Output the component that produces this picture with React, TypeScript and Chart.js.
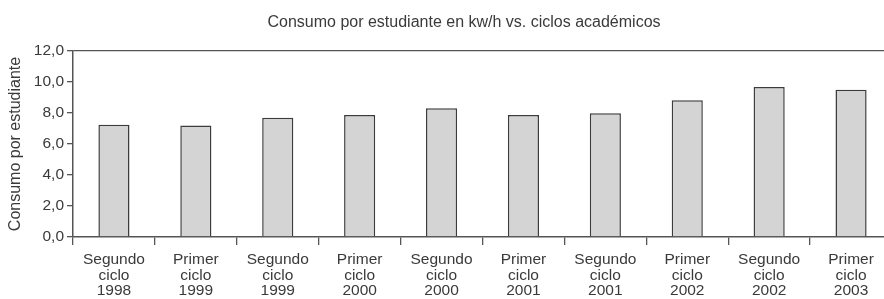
import React, { useEffect, useRef } from "react";
import { Chart, registerables } from "chart.js";

Chart.register(...registerables);

const categories: string[][] = [
  ["Segundo", "ciclo", "1998"],
  ["Primer", "ciclo", "1999"],
  ["Segundo", "ciclo", "1999"],
  ["Primer", "ciclo", "2000"],
  ["Segundo", "ciclo", "2000"],
  ["Primer", "ciclo", "2001"],
  ["Segundo", "ciclo", "2001"],
  ["Primer", "ciclo", "2002"],
  ["Segundo", "ciclo", "2002"],
  ["Primer", "ciclo", "2003"],
];

const consumo: number[] = [7.25, 7.2, 7.7, 7.87, 8.3, 7.87, 7.98, 8.82, 9.68, 9.5];

const chartTitle = "Consumo por estudiante en kw/h vs. ciclos académicos";
const yAxisTitle = "Consumo por estudiante";

const FONT = "'Liberation Sans', Arial, Helvetica, sans-serif";
const TEXT = "#3a3a3a";
const LINE = "#555555";

const titlePlugin = {
  id: "customTitle",
  afterDraw(chart: any) {
    const ctx = chart.ctx;
    ctx.save();
    ctx.font = `16px ${FONT}`;
    ctx.fillStyle = TEXT;
    ctx.textAlign = "center";
    ctx.textBaseline = "alphabetic";
    ctx.fillText(chartTitle, 464, 26.5);
    ctx.restore();
  },
};

export default function App() {
  const canvasRef = useRef<HTMLCanvasElement | null>(null);

  useEffect(() => {
    document.body.style.margin = "0";
    document.body.style.overflow = "hidden";
    const canvas = canvasRef.current;
    if (!canvas) return;
    const chart = new Chart(canvas, {
      type: "bar",
      data: {
        labels: categories,
        datasets: [
          {
            data: consumo,
            backgroundColor: "#d4d4d4",
            borderColor: "#3c3c3c",
            borderWidth: 1.5,
            barPercentage: 0.38,
            categoryPercentage: 1,
          },
        ],
      },
      options: {
        responsive: false,
        animation: false,
        layout: { padding: { top: 51, right: 8, left: 0, bottom: 0 } },
        plugins: {
          legend: { display: false },
          tooltip: { enabled: false },
          title: { display: false },
        },
        scales: {
          x: {
            offset: true,
            grid: {
              offset: true,
              drawOnChartArea: false,
              tickLength: 8,
              color: LINE,
              lineWidth: 1.3,
            },
            border: { color: LINE, width: 1.5 },
            ticks: {
              color: TEXT,
              font: { family: FONT, size: 15.5, lineHeight: 1.0 },
              padding: 7,
              maxRotation: 0,
              autoSkip: false,
            },
            afterFit: (scale: any) => {
              scale.height = 62;
            },
          },
          y: {
            min: 0,
            max: 12,
            ticks: {
              stepSize: 2,
              color: TEXT,
              font: { family: FONT, size: 15.5 },
              padding: 3,
              callback: (v: any) => Number(v).toFixed(1).replace(".", ","),
            },
            grid: {
              drawOnChartArea: true,
              tickLength: 6,
              color: (c: any) => (c.tick && c.tick.value === 12 ? LINE : "rgba(0,0,0,0)"),
              tickColor: LINE,
              lineWidth: 1.3,
            },
            border: { color: LINE, width: 1.5 },
            title: {
              display: true,
              text: yAxisTitle,
              color: TEXT,
              font: { family: FONT, size: 16, lineHeight: 1.2 },
              padding: { top: 6, bottom: 0 },
            },
            afterFit: (scale: any) => {
              scale.width = 73;
            },
          },
        },
      },
      plugins: [titlePlugin],
    });
    return () => chart.destroy();
  }, []);

  return (
    <div style={{ width: 884, height: 299, overflow: "hidden", position: "relative" }}>
      <canvas ref={canvasRef} width={900} height={299} style={{ display: "block" }} />
    </div>
  );
}
